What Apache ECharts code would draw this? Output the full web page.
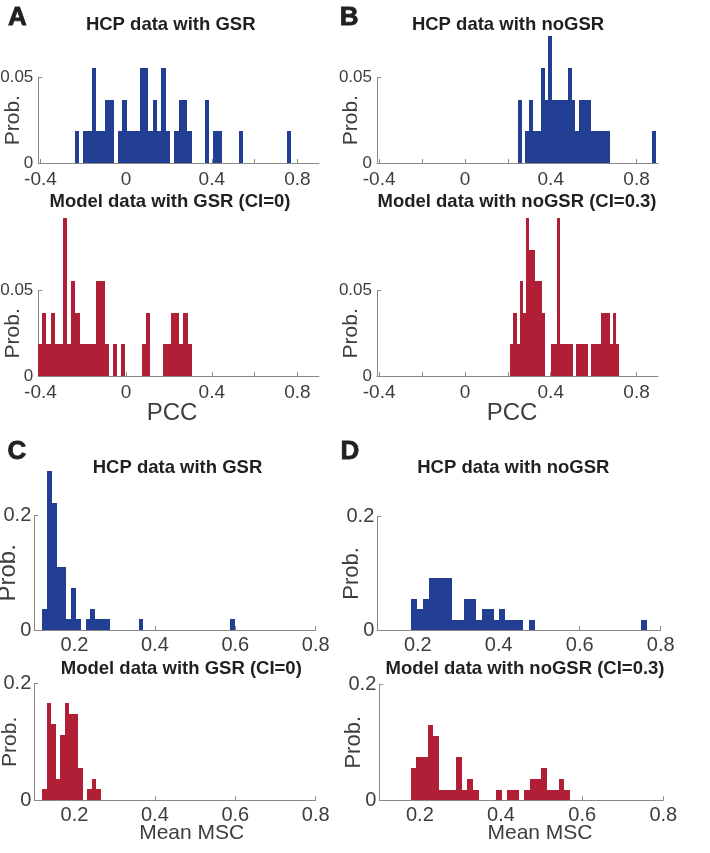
<!DOCTYPE html>
<html>
<head>
<meta charset="utf-8">
<script src="https://cdn.jsdelivr.net/npm/echarts@6/dist/echarts.min.js"></script>
<style>
html,body{margin:0;padding:0;background:#fff;}
#chart{width:710px;height:853px;}
</style>
</head>
<body>
<div id="chart"></div>
<script>
// ---------------- DATA ----------------
// Histogram bins: first bin edge, bin width, probability per bin.
const hcpGsrPccStart = -0.2397, hcpGsrPccWidth = 0.02019;
const hcpGsrPccProb = [0.0185,0,0.0185,0.0185,0.0556,0.0185,0.0185,0.037,0.037,0,
  0.0185,0.037,0.0185,0.0185,0.0185,0.0556,0.0556,0.0185,0.037,0.0185,
  0.0556,0.0185,0,0.0185,0.037,0.037,0.0185,0,0,0,
  0.037,0,0.0185,0.0185,0,0,0,0,0.0185,0,
  0,0,0,0,0,0,0,0,0,0.0185];

const modelGsrPccStart = -0.411, modelGsrPccWidth = 0.01938;
const modelGsrPccProb = [0.0185,0.037,0.0185,0.037,0.0185,0.0185,0.0926,0.0185,0.0556,0.037,
  0.0185,0.0185,0.0185,0.0185,0.0556,0.0556,0.0185,0,0.0185,0,
  0.0185,0,0,0,0,0.0185,0.037,0,0,0,
  0.0185,0.0185,0.037,0.037,0.0185,0.037,0.0185];

const hcpNoGsrPccStart = 0.2459, hcpNoGsrPccWidth = 0.01794;
const hcpNoGsrPccProb = [0.037,0,0.0185,0.037,0.0185,0.0185,0.0556,0.037,0.0741,0.037,
  0.037,0.037,0.037,0.0556,0.037,0.0185,0.037,0.037,0.037,0.0185,
  0.0185,0.0185,0.0185,0.0185,0,0,0,0,0,0,
  0,0,0,0,0,0.0185];

const modelNoGsrPccStart = 0.2116, modelNoGsrPccWidth = 0.01454;
const modelNoGsrPccProb = [0.0185,0.037,0.0185,0.0556,0.037,0.0926,0.0741,0.0741,0.0556,0.0556,
  0.037,0,0,0.0185,0.0185,0.0926,0.0185,0.0185,0.0185,0.0185,
  0,0.0185,0.0185,0.0185,0.0185,0,0.0185,0.0185,0.0185,0.037,
  0.037,0.037,0.0185,0.037,0.0185];

const hcpGsrMscStart = 0.1203, hcpGsrMscWidth = 0.01195;
const hcpGsrMscProb = [0.037,0.2778,0.2222,0.1111,0.1111,0.0185,0.0741,0.0185,0,0.0185,
  0.037,0.0185,0.0185,0.0185,0,0,0,0,0,0,
  0.0185,0,0,0,0,0,0,0,0,0,
  0,0,0,0,0,0,0,0,0,0.0185];

const modelGsrMscStart = 0.12, modelGsrMscWidth = 0.01115;
const modelGsrMscProb = [0.0185,0.1667,0.1296,0.037,0.1111,0.1667,0.1481,0.1481,0.0556,0,0.0185,0.037,0.0185];

const hcpNoGsrMscStart = 0.1835, hcpNoGsrMscWidth = 0.01455;
const hcpNoGsrMscProb = [0.0556,0.037,0.0556,0.0926,0.0926,0.0926,0.0926,0.0185,0.0185,0.0556,
  0.0556,0.0185,0.037,0.037,0.0185,0.037,0.0185,0.0185,0.0185,0,
  0.0185,0,0,0,0,0,0,0,0,0,
  0,0,0,0,0,0,0,0,0,0.0185];

const modelNoGsrMscStart = 0.1771, modelNoGsrMscWidth = 0.014025;
const modelNoGsrMscProb = [0.0556,0.0741,0.0741,0.1296,0.1111,0.0185,0.0185,0.0185,0.0741,0.0185,
  0.037,0.0185,0,0,0,0.0185,0,0.0185,0.0185,0,
  0.0185,0.037,0.037,0.0556,0.0185,0.0185,0.037,0.0185];

// Axis ticks / labels
const pccTickValues = [-0.4,-0.2,0,0.2,0.4,0.6,0.8];
const pccLabelValues = [-0.4,0,0.4,0.8];
const mscTickValues = [0.2,0.4,0.6,0.8];
const pccProbTicks = [0,0.05];
const mscProbTicks = [0,0.2];

// Texts
const panelLetters = ['A','B','C','D'];
const panelTitles = ['HCP data with GSR','Model data with GSR (CI=0)','HCP data with noGSR','Model data with noGSR (CI=0.3)',
                     'HCP data with GSR','Model data with GSR (CI=0)','HCP data with noGSR','Model data with noGSR (CI=0.3)'];
const pccName = 'PCC', mscName = 'Mean MSC', probName = 'Prob.';

// ---------------- LAYOUT / STYLE ----------------
const BLUE = '#223f93', RED = '#b01f36';
const AXIS = '#8a8a8a', LABEL = '#3d3d3d', DARK = '#231f20';
const FONT = '"Liberation Sans", Arial, Helvetica, sans-serif';

const panels = [
  {grid:{left:38.3, top:77.3, width:280.6, height:85.7}, kind:'pcc', bins:[hcpGsrPccStart,hcpGsrPccWidth,hcpGsrPccProb], color:BLUE, xName:false, title:[170.7,25], probSize:21},
  {grid:{left:38.3, top:290.7, width:280.6, height:85.3}, kind:'pcc', bins:[modelGsrPccStart,modelGsrPccWidth,modelGsrPccProb], color:RED, xName:true, xNameShift:-6.5, title:[170,202], probSize:21},
  {grid:{left:377, top:77.3, width:281, height:85.7}, kind:'pcc', bins:[hcpNoGsrPccStart,hcpNoGsrPccWidth,hcpNoGsrPccProb], color:BLUE, xName:false, title:[508,25], probSize:21},
  {grid:{left:377, top:290.7, width:281, height:85.3}, kind:'pcc', bins:[modelNoGsrPccStart,modelNoGsrPccWidth,modelNoGsrPccProb], color:RED, xName:true, xNameShift:-5.5, title:[517,202], probSize:21},
  {grid:{left:34.3, top:515.7, width:281.4, height:114.3}, kind:'msc', bins:[hcpGsrMscStart,hcpGsrMscWidth,hcpGsrMscProb], color:BLUE, xName:false, title:[177.5,467.5], probSize:24},
  {grid:{left:34.3, top:683.3, width:281.4, height:117}, kind:'msc', bins:[modelGsrMscStart,modelGsrMscWidth,modelGsrMscProb], color:RED, xName:true, xNameShift:16.7, title:[181.3,669.3], probSize:21},
  {grid:{left:377.3, top:516.7, width:283.4, height:113.3}, kind:'msc', bins:[hcpNoGsrMscStart,hcpNoGsrMscWidth,hcpNoGsrMscProb], color:BLUE, xName:false, title:[513.3,467.5], probSize:22},
  {grid:{left:379.3, top:684.3, width:284, height:116}, kind:'msc', bins:[modelNoGsrMscStart,modelNoGsrMscWidth,modelNoGsrMscProb], color:RED, xName:true, xNameShift:18.7, title:[525,669.3], probSize:22}
];
const letterPos = [[17.5,17.5],[349.2,17.5],[17,452],[350,452]];

function binData(start, width, probs) {
  const out = [];
  probs.forEach((p, i) => { if (p > 0) out.push([start + i * width, start + (i + 1) * width, p]); });
  return out;
}

function renderBin(params, api) {
  const a = api.coord([api.value(0), 0]);
  const b = api.coord([api.value(1), api.value(2)]);
  const x0 = Math.round(a[0]), x1 = Math.round(b[0]);
  const y0 = Math.round(a[1]), y1 = Math.round(b[1]);
  return {type:'rect', shape:{x:x0, y:y1, width:x1-x0, height:y0-y1},
          style:{fill: api.visual('color')}};
}

const grids = [], xAxes = [], yAxes = [], series = [], titles = [];
panels.forEach((p, i) => {
  const pcc = p.kind === 'pcc';
  grids.push(Object.assign({containLabel:false, outerBoundsMode:'none'}, p.grid));
  const x = {
    type:'value', gridIndex:i,
    min: pcc ? -0.41 : 0.1, max: pcc ? 0.9 : 0.8,
    splitLine:{show:false},
    axisLine:{show:true, onZero:false, lineStyle:{color:AXIS, width:1}},
    axisTick:{show:true, inside:true, length:4, lineStyle:{color:AXIS}, customValues: pcc ? pccTickValues : mscTickValues},
    axisLabel:{show:true, margin: pcc ? 7 : 5, color:LABEL, fontSize: pcc ? 19 : 20, fontFamily:FONT,
               customValues: pcc ? pccLabelValues : mscTickValues, hideOverlap:false}
  };
  if (p.xName) {
    const shift = p.xNameShift;
    x.name = pcc ? pccName : mscName;
    x.nameLocation = 'middle';
    x.nameGap = pcc ? 25 : 22;
    x.nameMoveOverlap = false;
    x.nameTextStyle = {fontSize: pcc ? 24 : 21, color:LABEL, fontFamily:FONT,
      padding: shift >= 0 ? [0,0,0,2*shift] : [0,-2*shift,0,0]};
  }
  xAxes.push(x);
  yAxes.push({
    type:'value', gridIndex:i,
    min:0, max: pcc ? 0.05 : 0.2,
    splitLine:{show:false},
    axisLine:{show:true, onZero:false, lineStyle:{color:AXIS, width:1}},
    axisTick:{show:true, inside:true, length:4, lineStyle:{color:AXIS}, customValues: pcc ? pccProbTicks : mscProbTicks},
    axisLabel:{show:true, margin: pcc ? 5 : 3, color:LABEL, fontSize: pcc ? 17 : 20, fontFamily:FONT,
               customValues: pcc ? pccProbTicks : mscProbTicks},
    name: probName, nameLocation:'middle', nameGap: pcc ? 15 : 14, nameMoveOverlap:false,
    nameTextStyle:{fontSize:p.probSize, color:LABEL, fontFamily:FONT}
  });
  series.push({
    type:'custom', xAxisIndex:i, yAxisIndex:i, clip:false,
    itemStyle:{color:p.color},
    renderItem: renderBin,
    encode:{x:[0,1], y:2},
    data: binData(p.bins[0], p.bins[1], p.bins[2]),
    silent:true
  });
  titles.push({text:panelTitles[i], left:p.title[0], top:p.title[1], textAlign:'center', textVerticalAlign:'middle', padding:0,
    textStyle:{fontSize:18.5, fontWeight:'bold', color:DARK, fontFamily:FONT}});
});
panelLetters.forEach((t, i) => {
  titles.push({text:t, left:letterPos[i][0], top:letterPos[i][1], textAlign:'center', textVerticalAlign:'middle', padding:0,
    textStyle:{fontSize:26, fontWeight:'bold', color:DARK, fontFamily:FONT, textBorderColor:DARK, textBorderWidth:0.8}});
});

const chart = echarts.init(document.getElementById('chart'), null, {renderer:'canvas'});
chart.setOption({
  animation:false,
  backgroundColor:'#ffffff',
  title: titles,
  grid: grids,
  xAxis: xAxes,
  yAxis: yAxes,
  series: series
});
</script>
</body>
</html>
